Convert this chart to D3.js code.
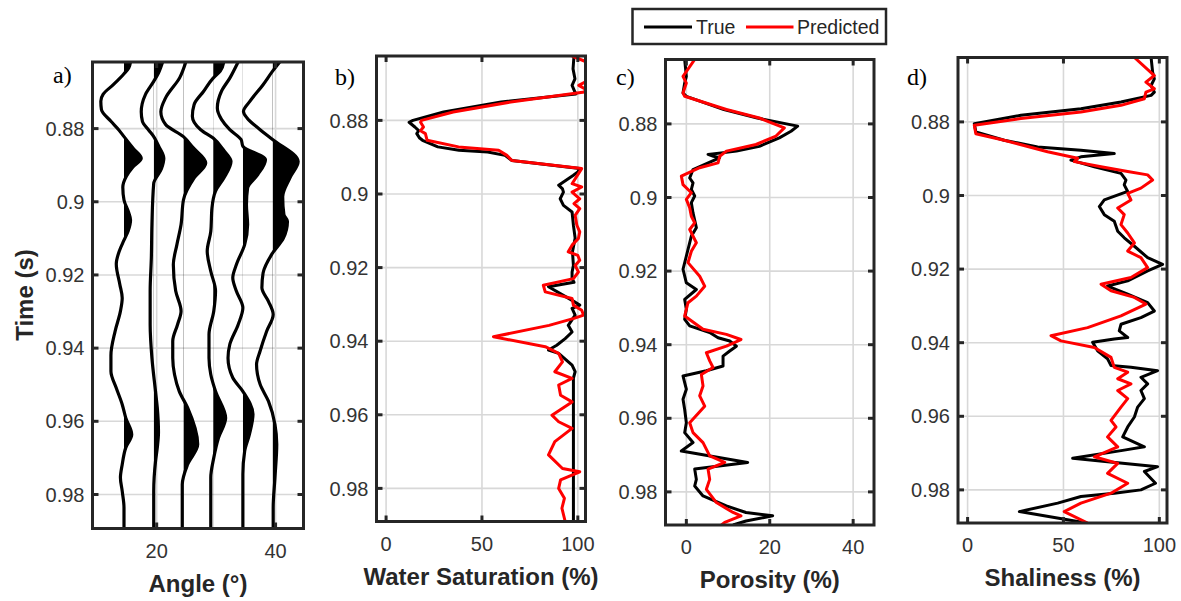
<!DOCTYPE html>
<html><head><meta charset="utf-8">
<script src="https://cdn.jsdelivr.net/npm/d3@7"></script>
<style>
body{margin:0;background:#fff}
text{font-family:"Liberation Sans",Arial,Helvetica,sans-serif}
</style>
</head><body>
<svg id="chart" width="1181" height="601"></svg>
<script>
// ---------------- DATA ----------------
const timeTicks = [0.88, 0.9, 0.92, 0.94, 0.96, 0.98];
const timeTickLabels = ["0.88", "0.9", "0.92", "0.94", "0.96", "0.98"];

// Panel a: angle gathers (wiggle traces), amplitude in degrees relative to baseline
const angles = [15, 20, 25, 30, 35, 40];
const angleTicks = [20, 40];
const trace15 = [[0.8618,1.1],[0.8634,0.8],[0.8650,0],[0.8680,-1.8],[0.8706,-3.5],[0.8725,-3.9],[0.8748,-3.8],[0.8780,-2.2],[0.8803,-0.9],[0.8822,0],[0.8855,1.6],[0.8881,2.9],[0.8905,1.5],[0.8930,0.4],[0.8960,-0.2],[0.8995,0],[0.9030,0.8],[0.9050,1.1],[0.9080,0.7],[0.9105,0],[0.9135,-0.8],[0.9170,-1.3],[0.9226,-0.7],[0.9263,-0.3],[0.9299,-0.6],[0.9354,-1.5],[0.9420,-2.2],[0.9463,-2.2],[0.9509,-1.3],[0.9554,-0.3],[0.9591,0.3],[0.9636,1.3],[0.9672,0.3],[0.9718,-0.3],[0.9754,-0.6],[0.9791,-0.3],[0.9836,0],[0.9893,0]];
const trace20 = [[0.8618,1.5],[0.8648,0.8],[0.8671,0],[0.8707,-1.4],[0.8754,-2.1],[0.8780,-1.9],[0.8805,-0.8],[0.8822,0],[0.8850,0.9],[0.8881,1.7],[0.8910,1.3],[0.8950,0],[0.9062,-0.3],[0.9153,-0.4],[0.9244,-0.6],[0.9336,-0.6],[0.9427,-0.3],[0.9518,0.3],[0.9563,0.6],[0.9630,0.8],[0.9672,0.6],[0.9710,0.3],[0.9791,0],[0.9893,0]];
const trace25 = [[0.8618,0.4],[0.8660,-0.6],[0.8716,-3.0],[0.8754,-3.8],[0.8789,-3.0],[0.8822,0],[0.8850,1.5],[0.8894,3.75],[0.8935,1.8],[0.8995,0],[0.9062,-0.4],[0.9117,-1.1],[0.9172,-1.7],[0.9244,-1.3],[0.9299,-0.4],[0.9336,-1.0],[0.9381,-1.8],[0.9427,-1.8],[0.9472,-1.5],[0.9518,-0.7],[0.9563,0.7],[0.9663,2.4],[0.9718,0.7],[0.9773,-0.2],[0.9836,-0.2],[0.9893,-0.2]];
const trace30 = [[0.8618,1.8],[0.8643,1.2],[0.8662,0],[0.8698,-1.6],[0.8734,-3.2],[0.8766,-3.5],[0.8803,-2.1],[0.8826,0],[0.8860,1.8],[0.8890,3.0],[0.8935,1.8],[0.8971,0.4],[0.9017,-0.2],[0.9081,-0.4],[0.9135,-1.0],[0.9190,-0.4],[0.9244,0.4],[0.9299,0.1],[0.9363,-0.7],[0.9427,-0.7],[0.9472,-0.4],[0.9518,0.4],[0.9591,2.1],[0.9645,0.9],[0.9700,0.1],[0.9754,-0.4],[0.9836,-0.4],[0.9893,-0.4]];
const trace35 = [[0.8618,-0.8],[0.8662,-2.2],[0.8698,-3.6],[0.8744,-4.3],[0.8775,-3.6],[0.8803,-2.2],[0.8830,-0.3],[0.8848,0],[0.8885,3.8],[0.8926,2.5],[0.8962,0.8],[0.9008,0.6],[0.9062,0.8],[0.9117,0.3],[0.9172,-1.1],[0.9208,-1.7],[0.9244,-1.1],[0.9290,0],[0.9336,-0.8],[0.9390,-2.2],[0.9427,-2.5],[0.9481,-1.7],[0.9518,0],[0.9581,1.7],[0.9636,1.1],[0.9682,0.3],[0.9745,0],[0.9893,0]];
const trace40 = [[0.8618,1.2],[0.8643,0],[0.8680,-1.6],[0.8725,-3.8],[0.8753,-4.9],[0.8771,-4.3],[0.8803,-2.1],[0.8830,0],[0.8890,4.3],[0.8935,2.9],[0.8986,1.7],[0.9035,1.9],[0.9053,2.5],[0.9100,1.8],[0.9140,0],[0.9195,-1.6],[0.9235,-1.8],[0.9272,-0.7],[0.9308,0.1],[0.9354,-1.0],[0.9408,-2.1],[0.9445,-2.7],[0.9499,-2.1],[0.9545,-0.7],[0.9609,0.4],[0.9663,0.7],[0.9754,0.4],[0.9836,0.1],[0.9893,0.1]];
const traces = [trace15, trace20, trace25, trace30, trace35, trace40];

// Panel b: water saturation (%)
const swTicks = [0, 50, 100];
const swTrue = [[0.8625,98],[0.866,97.5],[0.8687,98.5],[0.8705,97],[0.8723,98.5],[0.8728,99],[0.875,60],[0.8777,30],[0.88,14],[0.8805,12],[0.8818,15],[0.8828,17],[0.8836,16],[0.8848,17.5],[0.8854,19],[0.8872,27],[0.8881,38],[0.8886,53],[0.8895,62],[0.8909,65.6],[0.8931,101],[0.894,100],[0.8949,97.7],[0.8976,90],[0.8986,92],[0.8995,92.5],[0.9013,90.8],[0.9031,92.5],[0.9049,97],[0.9085,97.7],[0.912,98.6],[0.9157,97.2],[0.9194,97.7],[0.9212,97],[0.923,97],[0.924,98],[0.9252,84.7],[0.9289,97],[0.9302,101],[0.9311,97],[0.9329,98.6],[0.9357,95],[0.9375,97],[0.9393,93.4],[0.9411,89],[0.9424,84.7],[0.9433,90],[0.9465,97],[0.9483,98.6],[0.95,97.7],[0.989,97.7]];
const swPred = [[0.8625,97],[0.864,104],[0.8695,104],[0.8705,100.5],[0.8715,104],[0.8723,103.5],[0.875,65],[0.8777,35],[0.88,18.5],[0.8805,18],[0.8818,19.5],[0.8828,18],[0.8836,20.5],[0.8854,21.4],[0.8872,37.8],[0.8881,58.7],[0.8895,63],[0.8909,65.6],[0.8931,102],[0.8972,97],[0.8981,102],[0.8995,97],[0.9013,101],[0.9026,98],[0.904,101],[0.9058,98.6],[0.9085,99.5],[0.9103,101],[0.9121,100.3],[0.9139,97],[0.9157,95],[0.9167,100],[0.918,101],[0.9194,98.6],[0.9212,100.3],[0.923,97.7],[0.9248,82],[0.9266,83],[0.9284,97],[0.9302,97.7],[0.9316,102],[0.9329,103],[0.9338,98],[0.9357,85],[0.9388,56],[0.9415,83],[0.9433,90],[0.9456,92],[0.9483,88],[0.9501,97],[0.9519,90],[0.9547,91],[0.9565,97],[0.9601,86.5],[0.9619,90],[0.9637,97],[0.9673,88],[0.9709,84.7],[0.9746,92],[0.9755,101],[0.9777,91],[0.98,90],[0.9827,93],[0.9854,91.7],[0.989,93.4]];

// Panel c: porosity (%)
const phiTicks = [0, 20, 40];
const phiTrue = [[0.8625,-0.4],[0.8671,0],[0.8689,-0.4],[0.8716,-0.8],[0.8725,0],[0.8761,9],[0.8784,17],[0.8806,26.7],[0.882,25.1],[0.8838,22.3],[0.8861,17.5],[0.8874,12],[0.8883,5.2],[0.8888,6.5],[0.8892,8],[0.8897,7],[0.8924,1.6],[0.8947,0.8],[0.896,1.6],[0.8978,1.2],[0.8996,2],[0.9014,1.2],[0.9042,1.6],[0.9082,2.4],[0.9105,1.2],[0.9159,0],[0.9195,-0.8],[0.9232,0],[0.925,2.4],[0.9277,-0.4],[0.9304,0],[0.9331,-0.4],[0.9349,0.8],[0.9367,5.6],[0.9381,7.6],[0.939,10.4],[0.9404,12],[0.9417,10.4],[0.9431,8.8],[0.9458,8.8],[0.9471,4.8],[0.9485,-0.8],[0.9503,-0.4],[0.9521,0],[0.9548,-0.8],[0.9576,-0.4],[0.9612,0],[0.9639,-0.4],[0.9666,1.6],[0.9689,-1.2],[0.972,14.7],[0.9738,2],[0.9766,2.4],[0.9784,2],[0.9811,4],[0.9838,9.6],[0.9856,14.3],[0.9865,20.7],[0.9879,14.3],[0.989,11.2]];
const phiPred = [[0.8625,2],[0.8671,-0.8],[0.8689,0],[0.8716,-0.8],[0.8725,-0.4],[0.8761,9.6],[0.8784,17.5],[0.8811,23.5],[0.8833,21.5],[0.8856,16.7],[0.8874,9.6],[0.8888,8],[0.8906,7.6],[0.8919,3.2],[0.8942,-1.2],[0.8965,-0.8],[0.8987,1.2],[0.9005,0],[0.9028,0.8],[0.9051,1.2],[0.9069,2],[0.9087,0.8],[0.9123,2.4],[0.9146,1.2],[0.9177,0.4],[0.9214,3.2],[0.9241,4.4],[0.9268,2.4],[0.9286,0.4],[0.9322,-0.4],[0.9358,4],[0.9372,9.6],[0.9386,13.1],[0.9404,9.6],[0.9422,4.8],[0.9444,5.6],[0.9462,6.4],[0.9481,3.6],[0.9512,4],[0.9539,3.2],[0.9567,4.4],[0.9612,0.8],[0.9639,1.6],[0.9666,4],[0.9702,5.6],[0.972,9.2],[0.9738,5.2],[0.9766,5.6],[0.9793,4.8],[0.9829,7.2],[0.9856,11.2],[0.9865,13.1],[0.9883,9.2],[0.989,8.4]];

// Panel d: shaliness (%)
const vshTicks = [0, 50, 100];
const vshTrue = [[0.8625,95.7],[0.8665,96.5],[0.8683,97.4],[0.8701,95.7],[0.8719,97.4],[0.8728,95.7],[0.8746,80],[0.8764,59.1],[0.8782,27.8],[0.8805,3.5],[0.8827,4.3],[0.885,19.1],[0.8868,36.5],[0.8877,59.1],[0.8886,76.5],[0.8895,59.1],[0.8904,53.9],[0.8922,66.1],[0.894,80],[0.8958,82.6],[0.8971,81.7],[0.8989,83.5],[0.9012,71.3],[0.903,68.7],[0.9052,71.3],[0.907,76.5],[0.9097,78.3],[0.9115,81.7],[0.9138,87],[0.9169,93.9],[0.9187,101.7],[0.9205,93.9],[0.9232,83.5],[0.9246,73],[0.9268,83.5],[0.9291,93.9],[0.9314,97.4],[0.9332,90.4],[0.935,80],[0.9368,79.1],[0.9386,83.5],[0.939,76.5],[0.9399,65.2],[0.9422,67.8],[0.9444,73],[0.9462,74.8],[0.9467,85.2],[0.9476,99.1],[0.9494,90.4],[0.9512,93.9],[0.953,90.4],[0.9552,92.2],[0.9575,88.7],[0.9602,87],[0.9629,83.5],[0.9656,80.9],[0.9683,92.2],[0.9692,81.7],[0.9714,54.8],[0.9737,99.1],[0.975,92.2],[0.9782,98],[0.98,90.4],[0.9809,76.5],[0.9818,59.1],[0.9836,47],[0.9859,27],[0.989,62]];
const vshPred = [[0.8625,87],[0.8674,97.4],[0.8692,93],[0.871,97.4],[0.8719,93],[0.8737,92.2],[0.8755,80],[0.8773,59.1],[0.8791,27.8],[0.8809,3.5],[0.8832,4.3],[0.885,19.1],[0.8881,41.7],[0.8899,57.4],[0.8908,55.7],[0.8922,69.6],[0.8935,83.5],[0.8944,93.9],[0.8958,96.5],[0.898,90.4],[0.8994,83.5],[0.9012,85.2],[0.9034,78.3],[0.9052,81.7],[0.9079,80],[0.9102,83.5],[0.9129,87],[0.9151,83.5],[0.9169,90.4],[0.9196,93.9],[0.9223,85.2],[0.9241,69.6],[0.9259,74.8],[0.9277,87],[0.9295,93],[0.9327,80],[0.9359,62.6],[0.9381,43.5],[0.9395,48.7],[0.9413,66.1],[0.944,74.8],[0.9467,76.5],[0.948,83.5],[0.9498,78.3],[0.9512,85.2],[0.953,78.3],[0.9552,83.5],[0.9575,80],[0.9611,74.8],[0.9629,77.4],[0.9656,73],[0.9683,78.3],[0.971,66.1],[0.9728,78.3],[0.9755,73],[0.9782,83.5],[0.9809,74.8],[0.9836,59.1],[0.9859,50.4],[0.989,62.6]];

const legendItems = ["True", "Predicted"];
const seriesColors = ["#000000", "#ff0000"];

// ---------------- LAYOUT ----------------
const svg = d3.select("#chart");
const INK = "#262626";
const TICKTXT = "#333333";
const GRID = "#d8d8d8";
const traceShift = -0.5; // plotted baseline offset (deg)

const panels = [
  {key:"a", box:[92.5, 62, 303.5, 528.5], xd:[9.2, 44.7], yd:[0.8618, 0.9893], xticks:angleTicks, xlabel:"Angle (°)", tag:"a)", tagPos:[53, 83]},
  {key:"b", box:[376.5, 56, 585.5, 521.5], xd:[-5, 104], yd:[0.8625, 0.989], xticks:swTicks, xlabel:"Water Saturation (%)", tag:"b)", tagPos:[335, 85], series:[swTrue, swPred]},
  {key:"c", box:[665.5, 59.5, 874, 525], xd:[-5, 45], yd:[0.8625, 0.989], xticks:phiTicks, xlabel:"Porosity (%)", tag:"c)", tagPos:[616, 85], series:[phiTrue, phiPred]},
  {key:"d", box:[958, 57.5, 1167, 523], xd:[-5, 104], yd:[0.8625, 0.989], xticks:vshTicks, xlabel:"Shaliness (%)", tag:"d)", tagPos:[907, 85], series:[vshTrue, vshPred]}
];

const defs = svg.append("defs");

panels.forEach(p => {
  const [L, T, R, B] = p.box;
  const x = d3.scaleLinear().domain(p.xd).range([L, R]);
  const y = d3.scaleLinear().domain(p.yd).range([T, B]);
  const g = svg.append("g");

  defs.append("clipPath").attr("id", "clip-" + p.key)
    .append("rect").attr("x", L).attr("y", T).attr("width", R - L).attr("height", B - T);

  // grid
  g.selectAll(".hg").data(timeTicks).enter().append("line")
    .attr("x1", L).attr("x2", R).attr("y1", d => y(d)).attr("y2", d => y(d))
    .attr("stroke", GRID).attr("stroke-width", 1.6);
  g.selectAll(".vg").data(p.xticks).enter().append("line")
    .attr("y1", T).attr("y2", B).attr("x1", d => x(d)).attr("x2", d => x(d))
    .attr("stroke", GRID).attr("stroke-width", 1.6);

  const dg = g.append("g").attr("clip-path", "url(#clip-" + p.key + ")");

  if (p.key === "a") {
    traces.forEach((tr, i) => {
      const base = angles[i] + traceShift;
      const cid = "pos-" + i;
      defs.append("clipPath").attr("id", cid)
        .append("rect").attr("x", x(base)).attr("y", T).attr("width", R - x(base)).attr("height", B - T);
      const area = d3.area().curve(d3.curveMonotoneY)
        .x0(x(base)).x1(d => x(base + d[1])).y(d => y(d[0]));
      dg.append("path").datum(tr).attr("d", area).attr("fill", "#000")
        .attr("clip-path", "url(#" + cid + ")");
      const line = d3.line().curve(d3.curveMonotoneY).x(d => x(base + d[1])).y(d => y(d[0]));
      dg.append("path").datum(tr).attr("d", line).attr("fill", "none")
        .attr("stroke", "#000").attr("stroke-width", 3.2).attr("stroke-linejoin", "round");
    });
  } else {
    const line = d3.line().x(d => x(d[1])).y(d => y(d[0]));
    p.series.forEach((s, i) => {
      dg.append("path").datum(s).attr("d", line).attr("fill", "none")
        .attr("stroke", seriesColors[i]).attr("stroke-width", 3).attr("stroke-linejoin", "round");
    });
  }

  // box
  g.append("rect").attr("x", L).attr("y", T).attr("width", R - L).attr("height", B - T)
    .attr("fill", "none").attr("stroke", INK).attr("stroke-width", 3);

  // ticks (inward on all four sides)
  const tl = 6;
  timeTicks.forEach(t => {
    g.append("line").attr("x1", L).attr("x2", L + tl).attr("y1", y(t)).attr("y2", y(t)).attr("stroke", INK).attr("stroke-width", 3);
    g.append("line").attr("x1", R - tl).attr("x2", R).attr("y1", y(t)).attr("y2", y(t)).attr("stroke", INK).attr("stroke-width", 3);
  });
  p.xticks.forEach(v => {
    g.append("line").attr("y1", B).attr("y2", B - tl).attr("x1", x(v)).attr("x2", x(v)).attr("stroke", INK).attr("stroke-width", 3);
    g.append("line").attr("y1", T).attr("y2", T + tl).attr("x1", x(v)).attr("x2", x(v)).attr("stroke", INK).attr("stroke-width", 3);
  });

  // tick labels
  g.selectAll(".yl").data(timeTicks).enter().append("text")
    .attr("x", L - 8).attr("y", d => y(d)).attr("dy", "0.36em")
    .attr("text-anchor", "end").attr("font-size", 20).attr("fill", TICKTXT)
    .text((d, i) => timeTickLabels[i]);
  g.selectAll(".xl").data(p.xticks).enter().append("text")
    .attr("x", d => x(d)).attr("y", B + 29)
    .attr("text-anchor", "middle").attr("font-size", 20).attr("fill", TICKTXT)
    .text(d => String(d));

  // axis label
  g.append("text").attr("x", (L + R) / 2).attr("y", B + 63)
    .attr("text-anchor", "middle").attr("font-size", 24).attr("font-weight", "bold").attr("fill", INK)
    .text(p.xlabel);

  // panel tag
  g.append("text").attr("x", p.tagPos[0]).attr("y", p.tagPos[1])
    .style("font-family", "'Liberation Serif','Times New Roman',serif")
    .attr("font-size", 24).attr("fill", "#000").text(p.tag);
});

// y axis title
svg.append("text").attr("transform", "translate(33,295) rotate(-90)")
  .attr("text-anchor", "middle").attr("font-size", 24).attr("font-weight", "bold").attr("fill", INK)
  .text("Time (s)");

// legend
const lg = svg.append("g");
lg.append("rect").attr("x", 632.5).attr("y", 9).attr("width", 253.5).attr("height", 35)
  .attr("fill", "#fff").attr("stroke", INK).attr("stroke-width", 2.5);
const legX = [[644, 692, 696], [746, 793.5, 797]];
legendItems.forEach((name, i) => {
  lg.append("line").attr("x1", legX[i][0]).attr("x2", legX[i][1]).attr("y1", 27).attr("y2", 27)
    .attr("stroke", seriesColors[i]).attr("stroke-width", 3);
  lg.append("text").attr("x", legX[i][2]).attr("y", 34).attr("font-size", 19.5).attr("fill", INK).text(name);
});
</script>
</body></html>
